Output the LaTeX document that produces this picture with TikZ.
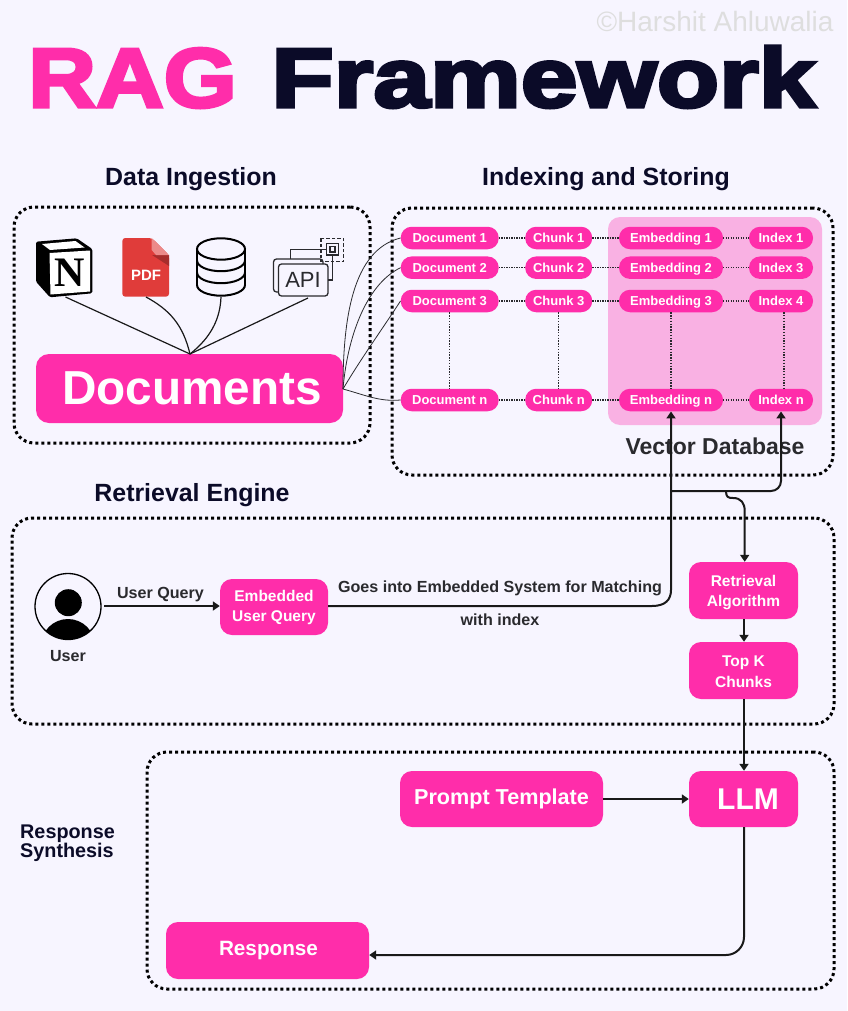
\documentclass[tikz,border=0pt]{standalone}
\usepackage{fontspec}
\usetikzlibrary{arrows.meta}
\setmainfont{Liberation Sans}
\newfontfamily\titlefont[FakeBold=4,FakeStretch=1.14]{Liberation Sans Bold}
\newfontfamily\serifb{Liberation Serif}
\definecolor{bgc}{HTML}{F7F5FF}
\definecolor{pinkc}{HTML}{FF2DAA}
\definecolor{vdb}{HTML}{F9B1E3}
\definecolor{navy}{HTML}{0B0B28}
\definecolor{inkc}{HTML}{2A2A2E}
\definecolor{pdfr}{HTML}{E03C3A}
\newcommand{\fs}[1]{\fontsize{#1}{#1}\selectfont}
\tikzset{
  framebox/.style={draw=black,line width=3pt,dash pattern=on 3pt off 3pt,rounded corners=20pt,inner sep=0pt},
  pill/.style={fill=pinkc,text=white,rounded corners=11pt,minimum height=22.5pt,inner sep=0pt,font=\bfseries\fs{13},text height=9.5pt,text depth=0pt},
  docpill/.style={pill,minimum width=98pt},
  chunkpill/.style={pill,minimum width=67pt},
  embpill/.style={pill,minimum width=104pt},
  idxpill/.style={pill,minimum width=64pt},
  bigbox/.style={fill=pinkc,text=white,rounded corners=12pt,inner sep=0pt,align=center,font=\bfseries},
  head/.style={text=navy,font=\bfseries\fs{24.9},inner sep=0pt},
  lbl/.style={text=inkc,font=\bfseries\fs{16.1},inner sep=0pt,align=center},
  dotrow/.style={draw=inkc,line width=1.4pt,dash pattern=on 1.2pt off 1.3pt},
  dotcol/.style={draw=inkc,line width=1.3pt,dash pattern=on 1.3pt off 1.5pt},
  wire/.style={draw=inkc,line width=0.8pt},
  feed/.style={draw=black!90,line width=1.2pt},
  flow/.style={draw=black!90,line width=2pt,-{Triangle[length=7pt,width=9pt]}},
}
\begin{document}
\begin{tikzpicture}[x=1pt,y=-1pt]
\useasboundingbox (0,0) rectangle (847,1011);
\fill[bgc] (0,0) rectangle (847,1011);

% title
\node[inner sep=0pt,text=black!13,font=\fs{28}] (wm) at (715,21) {©Harshit Ahluwalia};
\node[inner sep=0pt,text=pinkc,font=\titlefont\fs{84},anchor=base] (t1) at (132.5,107) {\scalebox{0.98}[1]{RAG}};
\node[inner sep=0pt,text=navy,font=\titlefont\fs{84},anchor=base] (t2) at (543.5,107) {\scalebox{1.065}[1]{Framework}};

\node[head] (h1) at (191,179) {Data Ingestion};
\node[head] (h2) at (606,179) {Indexing and Storing};
\node[head] (h3) at (192,495) {Retrieval Engine};
\node[text=navy,font=\bfseries\fs{19.8},inner sep=0pt,align=left,anchor=west] (h4) at (20,843) {Response\\[-1pt]Synthesis};

% frames
\node[framebox,minimum width=356pt,minimum height=236pt] (fa) at (192,325) {};
\node[framebox,minimum width=441pt,minimum height=267pt] (fb) at (612.5,341.5) {};
\node[framebox,minimum width=822pt,minimum height=206pt] (fc) at (423,621) {};
\node[framebox,minimum width=687pt,minimum height=237pt] (fd) at (490.5,870.5) {};

% vector database
\node[fill=vdb,rounded corners=12pt,minimum width=214pt,minimum height=208pt,inner sep=0pt] (vd) at (715,321) {};
\node[text=inkc,font=\bfseries\fs{23},inner sep=0pt] (vl) at (715,446) {Vector Database};

% icons : Notion
\fill[black,rounded corners=1.5pt] (36,241.7) -- (76.7,238.3) -- (92.3,249) -- (92.3,293.3) -- (50,297.3) -- (36,281.7) -- cycle;
\fill[white] (42,244) -- (75.5,241) -- (84.5,247.5) -- (50,250) -- cycle;
\fill[white] (49.5,253) -- (90,250.5) -- (90,291.5) -- (50.5,294.5) -- cycle;
\node[inner sep=0pt,font=\serifb\bfseries\fs{42}] (notion) at (69.5,273) {N};
\coordinate (notionb) at (65.5,297);
% PDF
\fill[pdfr,rounded corners=3pt] (122.3,238) -- (151.7,238) -- (169,255) -- (169,296.7) -- (122.3,296.7) -- cycle;
\fill[pdfr!75!black] (152,255) -- (169,255) -- (169,266) -- cycle;
\fill[pdfr!60!white] (151.7,238) -- (169,255) -- (156,255) -- (151.7,250) -- cycle;
\node[inner sep=0pt,text=white,font=\bfseries\fs{15}] (pdf) at (146,275) {PDF};
\coordinate (pdfb) at (146,297);
% database
\begin{scope}[line width=2pt,draw=black]
\draw (221,249) ellipse [x radius=24,y radius=10.7];
\draw (197,249) -- (197,285);
\draw (245,249) -- (245,285);
\draw (197,260.5) arc [start angle=180,end angle=0,x radius=24,y radius=10.7];
\draw (197,272.5) arc [start angle=180,end angle=0,x radius=24,y radius=10.7];
\draw (197,285) arc [start angle=180,end angle=0,x radius=24,y radius=10.7];
\end{scope}
\coordinate (dbb) at (221,297);
% API
\begin{scope}[draw=inkc,line width=1.3pt]
\draw[rounded corners=3pt] (278,292) -- (273.5,292) -- (273.5,259) -- (323,259) -- (323,264);
\draw[rounded corners=3pt] (278.5,264) rectangle (328,296);
\draw (290.7,259) -- (290.7,249.5) -- (326.7,249.5);
\draw (332.7,255) -- (332.7,280) -- (328,280);
\draw (326.7,243.3) rectangle (338.3,255);
\draw[line width=1.8pt] (329.8,246.4) rectangle (335.2,251.9);
\draw[dash pattern=on 3.5pt off 2pt] (321,238.3) rectangle (343.3,261.7);
\end{scope}
\node[inner sep=0pt,text=inkc,font=\fs{22}] (api) at (303,280) {API};
\coordinate (apib) at (308,298);

% documents
\node[bigbox,minimum width=307pt,minimum height=69pt,rounded corners=13pt,font=\bfseries\fs{47.7}] (docs) at (189.5,388.5) {\hspace{5pt}Documents};

\coordinate (docst) at (190,354);
\draw[feed] (notionb) -- (docst);
\draw[feed] (pdfb) .. controls (170,310) and (183,325) .. (docst);
\draw[feed] (dbb) .. controls (220,325) and (205,342) .. (docst);
\draw[feed] (apib) -- (docst);

% pills
\foreach \nm/\lab/\y in {1/1/238,2/2/267.7,3/3/301,n/n/400}{
  \node[docpill] (d\nm) at (449.7,\y) {Document \lab};
  \node[chunkpill] (c\nm) at (558.7,\y) {Chunk \lab};
  \node[embpill] (e\nm) at (671,\y) {Embedding \lab};
}
\node[idxpill] (i1) at (781,238) {Index 1};
\node[idxpill] (i2) at (781,267.7) {Index 3};
\node[idxpill] (i3) at (781,301) {Index 4};
\node[idxpill] (in) at (781,400) {Index n};

\foreach \nm in {1,2,3,n}{
  \draw[dotrow] (d\nm) -- (c\nm);
  \draw[dotrow] (c\nm) -- (e\nm);
  \draw[dotrow] (e\nm) -- (i\nm);
}
\draw[dotcol] (d3) -- (dn);
\draw[dotcol] (c3) -- (cn);
\draw[dotcol] (e3) -- (en);
\draw[dotcol] (784,312.3) -- (784,388.7);

% documents to pills
\coordinate (dse) at (343,389);
\draw[wire] (dse) .. controls (343,320) and (352,250) .. (d1.west);
\draw[wire] (dse) .. controls (347,340) and (365,285) .. (d2.west);
\draw[wire] (dse) .. controls (360,360) and (385,325) .. (d3.west);
\draw[wire] (dse) .. controls (365,395) and (380,402) .. (dn.west);

% retrieval
\draw[line width=1.3pt,draw=black] (68,606.5) circle [radius=33];
\fill[black] (68.3,602.7) circle [radius=13.5];
\begin{scope}
\clip (68,606.5) circle [radius=33];
\fill[black] (68,646) ellipse [x radius=27,y radius=27];
\end{scope}
\coordinate (usere) at (104,606);
\node[lbl] (ul) at (68,656) {User};
\node[lbl] (uq) at (160.5,595) {User Query};
\node[bigbox,minimum width=108pt,minimum height=56pt,font=\bfseries\fs{15.5}] (eq) at (274,607) {\rule{0pt}{12pt}Embedded\\[5pt]User Query};
\node[lbl] (g1) at (500,588) {Goes into Embedded System for Matching};
\node[lbl] (g2) at (500,620) {with index};
\node[bigbox,minimum width=109pt,minimum height=57pt,font=\bfseries\fs{15.5}] (ra) at (743.5,590.5) {\rule{0pt}{15pt}Retrieval\\[5pt]Algorithm};
\node[bigbox,minimum width=109pt,minimum height=57pt,font=\bfseries\fs{15.5}] (tk) at (743.5,670.5) {\rule{0pt}{13pt}Top K\\[5pt]Chunks};
\node[bigbox,minimum width=109pt,minimum height=56pt,font=\bfseries\fs{30}] (llm) at (743.5,799) {\hspace{9pt}LLM};
\node[bigbox,minimum width=203pt,minimum height=56pt,font=\bfseries\fs{21.6}] (pt) at (501.5,799) {Prompt Template};
\node[bigbox,minimum width=203pt,minimum height=57pt,font=\bfseries\fs{20.7}] (resp) at (267.5,950.5) {\hspace{2pt}Response};

% flows
\draw[flow] (usere) -- (eq.west |- usere);
\coordinate (junc) at (671,491);
\coordinate (wig) at (726,491);
\draw[flow] (eq.east |- 0,606) -- (652,606) .. controls (665,606) and (671,600) .. (671,590) -- (en.south);
\draw[flow,rounded corners=10pt] (junc) -- (781,491) -- (in.south);
\draw[flow] (wig) .. controls (726,497) and (728,498) .. (733,498) .. controls (741,498) and (744.7,503) .. (744.7,511) -- (ra.north -| 744.7,0);
\draw[flow] (ra.south -| 744,0) -- (tk.north -| 744,0);
\draw[flow] (tk.south -| 744,0) -- (llm.north -| 744,0);
\draw[flow] (pt.east) -- (llm.west);
\draw[flow,rounded corners=18pt] (llm.south -| 744,0) -- (744,955) -- (resp.east |- 0,955);
\end{tikzpicture}
\end{document}
